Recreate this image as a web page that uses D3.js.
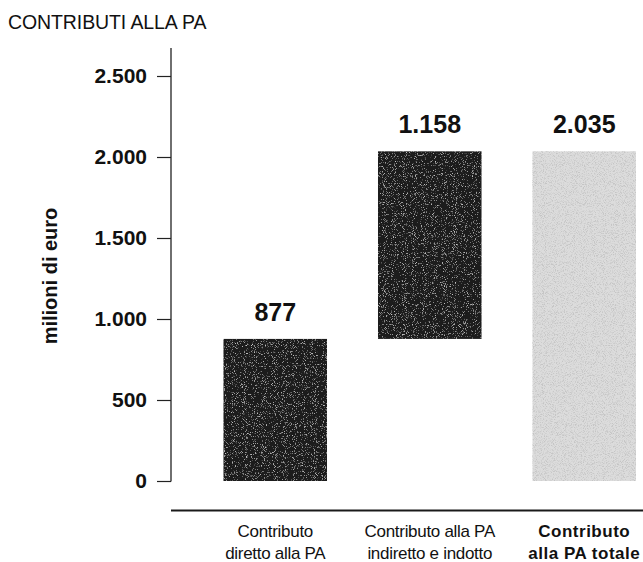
<!DOCTYPE html>
<html>
<head>
<meta charset="utf-8">
<script src="https://cdn.jsdelivr.net/npm/d3@7"></script>
<style>
  html, body { margin: 0; padding: 0; background: #fff; }
  svg { display: block; font-family: "Liberation Sans", Arial, Helvetica, sans-serif; }
</style>
</head>
<body>
<svg id="chart" width="643" height="562"></svg>
<script>
// Categories (two text lines each), bar values, bar bases and axis ticks
const categoryLines = [
  ["Contributo", "diretto alla PA"],
  ["Contributo alla PA", "indiretto e indotto"],
  ["Contributo", "alla PA totale"]
];
const categoryBold = [false, false, true];
const barValues = [877, 1158, 2035];
const barBases = [0, 877, 0];
const valueLabels = ["877", "1.158", "2.035"];
const barColors = ["#1b1b1b", "#1b1b1b", "#dcdcdc"];
const yTicks = [0, 500, 1000, 1500, 2000, 2500];

const it = d3.formatLocale({ decimal: ",", thousands: ".", grouping: [3], currency: ["€", ""] });
const fmt = it.format(",d");

const svg = d3.select("#chart");

// grain textures for the bars: noise-driven specks laid over the fill
const defs = svg.append("defs");
function grain(id, speckColor, gain, cut, freq, seed) {
  const f = defs.append("filter").attr("id", id)
    .attr("x", 0).attr("y", 0).attr("width", "100%").attr("height", "100%");
  f.append("feTurbulence").attr("type", "fractalNoise")
    .attr("baseFrequency", freq).attr("numOctaves", 2).attr("seed", seed).attr("result", "noise");
  const c = d3.color(speckColor);
  const r = c.r / 255, g = c.g / 255, b = c.b / 255;
  f.append("feColorMatrix").attr("in", "noise").attr("type", "matrix")
    .attr("values", `0 0 0 0 ${r}  0 0 0 0 ${g}  0 0 0 0 ${b}  ${gain} 0 0 0 ${-cut}`)
    .attr("result", "speck");
  f.append("feComposite").attr("in", "speck").attr("in2", "SourceGraphic")
    .attr("operator", "in").attr("result", "speckIn");
  const m = f.append("feMerge");
  m.append("feMergeNode").attr("in", "SourceGraphic");
  m.append("feMergeNode").attr("in", "speckIn");
}
grain("grainDark", "#8c8c8c", 4.0, 2.35, 1.1, 4);
grain("grainLight", "#8f8f8f", 4.0, 1.9, 1.1, 7);

// title
svg.append("text")
  .attr("x", 8).attr("y", 29)
  .attr("font-size", 19.5).attr("letter-spacing", -0.1).attr("fill", "#111")
  .text("CONTRIBUTI ALLA PA");

// scales
const y = d3.scaleLinear().domain([0, 2500]).range([481, 76]);
const x = d3.scaleBand().domain(d3.range(barValues.length))
  .range([198, 661.5]).paddingInner(0.33).paddingOuter(0.165);

const axisX = 171;

// y axis
const yAxis = svg.append("g")
  .attr("transform", `translate(${axisX},0)`)
  .call(d3.axisLeft(y).tickValues(yTicks).tickFormat(fmt).tickSize(14).tickSizeOuter(0).tickPadding(10));
yAxis.select(".domain").remove();
yAxis.selectAll(".tick line").attr("stroke", "#222").attr("stroke-width", 1.2);
yAxis.selectAll(".tick text")
  .attr("font-family", "'Liberation Sans', Arial, sans-serif")
  .attr("font-size", 21).attr("font-weight", "bold").attr("fill", "#111");
// axis spine running a little above the top tick
yAxis.append("line")
  .attr("x1", 0).attr("x2", 0)
  .attr("y1", y(2500) - 28).attr("y2", y(0) + 0.6)
  .attr("stroke", "#222").attr("stroke-width", 1.3);

// axis title
svg.append("text")
  .attr("transform", `translate(57,276) rotate(-90)`)
  .attr("text-anchor", "middle")
  .attr("font-size", 20).attr("font-weight", "bold").attr("fill", "#111")
  .text("milioni di euro");

// bars
svg.append("g").selectAll("rect")
  .data(barValues)
  .join("rect")
  .attr("x", (d, i) => x(i))
  .attr("width", x.bandwidth())
  .attr("y", (d, i) => y(barBases[i] + d))
  .attr("height", (d, i) => y(barBases[i]) - y(barBases[i] + d))
  .attr("fill", (d, i) => barColors[i])
  .attr("filter", (d, i) => i === 2 ? "url(#grainLight)" : "url(#grainDark)");

// value labels
svg.append("g").selectAll("text")
  .data(barValues)
  .join("text")
  .attr("x", (d, i) => x(i) + x.bandwidth() / 2)
  .attr("y", (d, i) => y(barBases[i] + d) - 18)
  .attr("text-anchor", "middle")
  .attr("font-size", 25).attr("font-weight", "bold").attr("fill", "#111")
  .text((d, i) => valueLabels[i]);

// baseline rule under the chart
svg.append("line")
  .attr("x1", axisX).attr("x2", 643)
  .attr("y1", 510.5).attr("y2", 510.5)
  .attr("stroke", "#1a1a1a").attr("stroke-width", 2);

// category labels
const cat = svg.append("g").selectAll("text")
  .data(categoryLines)
  .join("text")
  .attr("x", (d, i) => x(i) + x.bandwidth() / 2)
  .attr("y", 537)
  .attr("text-anchor", "middle")
  .attr("font-size", 17)
  .attr("letter-spacing", (d, i) => categoryBold[i] ? 0.5 : -0.3)
  .attr("font-weight", (d, i) => categoryBold[i] ? "bold" : "normal")
  .attr("fill", "#111");
cat.selectAll("tspan")
  .data(d => d)
  .join("tspan")
  .attr("x", function () { return d3.select(this.parentNode).attr("x"); })
  .attr("dy", (d, j) => j === 0 ? 0 : 22)
  .text(d => d);
</script>
</body>
</html>
